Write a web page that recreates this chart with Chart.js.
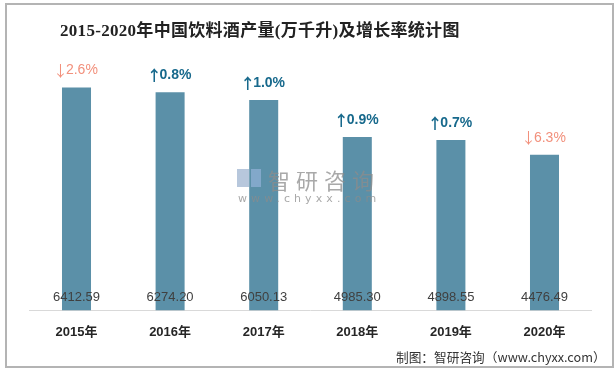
<!DOCTYPE html>
<html>
<head>
<meta charset="utf-8">
<script src="https://cdn.jsdelivr.net/npm/chart.js@4.4.0/dist/chart.umd.min.js"></script>
<style>
  html, body { margin: 0; padding: 0; background: #fff; }
  #wrap { position: relative; width: 615px; height: 370px; overflow: hidden; }
  #frame { position: absolute; left: 5px; top: 3px; width: 605px; height: 361px; border: 2px solid #b4b4b4; box-sizing: content-box; }
  #title { position: absolute; left: 60px; top: 16px; font: bold 17px "Liberation Serif", "Noto Sans CJK SC", serif; color: #222; white-space: nowrap; letter-spacing: 0.3px; }
  #note { position: absolute; left: 396px; top: 347px; font: 12.7px "Noto Sans CJK SC", sans-serif; color: #333; white-space: nowrap; }
  #wm { position: absolute; left: 237px; top: 163px; color: #8c8c8c; opacity: 0.75; white-space: nowrap; pointer-events: none; }
  #wm .name { position: absolute; left: 31px; top: 0; font: 22px "Noto Sans CJK SC", sans-serif; letter-spacing: 6px; }
  #wm .url { position: absolute; left: 1px; top: 29px; font: 11px "DejaVu Sans", sans-serif; letter-spacing: 4.1px; }
  #wm .logo1 { position: absolute; left: 0; top: 6px; width: 12px; height: 18px; background: #9fb4d0; }
  #wm .logo2 { position: absolute; left: 14px; top: 6px; width: 10px; height: 18px; background: #8fb0d6; }
  canvas { position: absolute; left: 0; top: 0; }
</style>
</head>
<body>
<div id="wrap">
  <canvas id="myChart" width="615" height="370"></canvas>
  <div id="frame"></div>
  <div id="title">2015-2020年中国饮料酒产量(万千升)及增长率统计图</div>
  <div id="wm"><span class="logo1"></span><span class="logo2"></span><span class="name">智研咨询</span><span class="url">www.chyxx.com</span></div>
  <div id="note">制图：智研咨询（www.chyxx.com）</div>
</div>
<script>
const years = ['2015年', '2016年', '2017年', '2018年', '2019年', '2020年'];
const output = [6412.59, 6274.20, 6050.13, 4985.30, 4898.55, 4476.49];
const growth = [-2.6, 0.8, 1.0, 0.9, 0.7, -6.3];

const labelPlugin = {
  id: 'barLabels',
  afterDatasetsDraw(chart) {
    const ctx = chart.ctx;
    const meta = chart.getDatasetMeta(0);
    const yScale = chart.scales.y;
    ctx.save();
    ctx.textBaseline = 'middle';
    meta.data.forEach((bar, i) => {
      // value near the bottom of the bar
      ctx.textAlign = 'center';
      ctx.font = '13px "Liberation Sans", "Noto Sans", sans-serif';
      ctx.fillStyle = '#404040';
      ctx.fillText(output[i].toFixed(2), bar.x, yScale.bottom - 13);

      // growth rate above the bar: arrow + number
      const g = growth[i];
      const arrow = g < 0 ? '↓' : '↑';
      const num = Math.abs(g).toFixed(1) + '%';
      const arrowFont = (g < 0 ? '' : 'bold ') + '15px "Noto Sans CJK SC", sans-serif';
      const numFont = (g < 0 ? '' : 'bold ') + '14px "Liberation Sans", "Noto Sans", sans-serif';
      ctx.fillStyle = g < 0 ? '#f2907c' : '#17698c';
      ctx.font = arrowFont;
      const aw = ctx.measureText(arrow).width * 0.72;
      ctx.font = numFont;
      const nw = ctx.measureText(num).width;
      const left = bar.x - (aw + nw) / 2;
      ctx.textAlign = 'left';
      ctx.font = arrowFont;
      ctx.fillText(arrow, left - ctx.measureText(arrow).width * 0.14, bar.y - 17);
      ctx.font = numFont;
      ctx.fillText(num, left + aw, bar.y - 17);
    });
    ctx.restore();
  }
};

const ctx = document.getElementById('myChart').getContext('2d');
const chart = new Chart(ctx, {
  type: 'bar',
  data: {
    labels: years,
    datasets: [{
      data: output,
      backgroundColor: '#5b90a8',
      borderWidth: 0,
      barPercentage: 0.31,
      categoryPercentage: 1.0,
    }],
  },
  options: {
    responsive: false,
    animation: false,
    layout: {
      padding: { left: 29.7, right: 23.7, top: 67, bottom: 16 },
    },
    plugins: {
      legend: { display: false },
      tooltip: { enabled: false },
    },
    scales: {
      x: {
        grid: { display: false, drawTicks: false },
        border: { display: true, color: '#d9d9d9', width: 1 },
        ticks: {
          padding: 14,
          color: '#262626',
          font: { family: '"Liberation Sans", "Noto Sans CJK SC", sans-serif', size: 13, weight: 'bold' },
        },
      },
      y: {
        display: false,
        min: 0,
        max: 7000,
      },
    },
  },
  plugins: [labelPlugin],
});
</script>
</body>
</html>
